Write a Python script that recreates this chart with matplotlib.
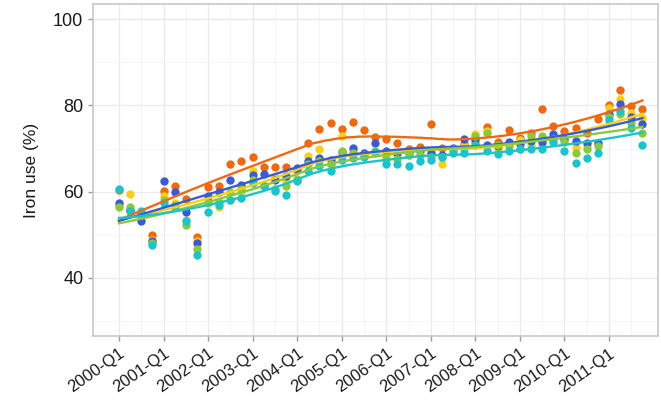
import numpy as np
import matplotlib
matplotlib.use("Agg")
import matplotlib.pyplot as plt

plt.rcParams['font.family'] = ['Liberation Sans', 'DejaVu Sans']

# quarters 2000-Q1 .. 2011-Q4
quarters = [f"{y}-Q{q}" for y in range(2000, 2012) for q in range(1, 5)]
years = list(range(2000, 2012))

orange = [60.3, 55.5, 55.0, 50.0, 60.1, 61.4, 58.3, 49.5, 61.1, 61.4, 66.5, 67.2,
          68.1, 65.7, 65.7, 65.7, 65.0, 71.3, 74.6, 76.0, 74.6, 76.1, 74.3, 72.7,
          72.1, 71.2, 70.0, 70.4, 75.6, 70.2, 70.0, 71.0, 71.5, 75.0, 71.5, 74.3,
          72.5, 73.5, 79.2, 75.2, 74.0, 74.8, 73.5, 76.9, 80.2, 83.6, 79.8, 79.2]
yellow = [57.0, 59.4, 54.5, 48.8, 59.0, 57.3, 53.5, 48.5, 57.8, 56.5, 58.1, 60.0,
          64.7, 61.5, 63.5, 62.5, 62.8, 68.2, 69.9, 66.5, 73.0, 69.5, 68.5, 69.0,
          68.0, 68.5, 68.5, 68.5, 69.0, 66.3, 69.5, 70.5, 73.3, 74.0, 70.0, 70.8,
          71.9, 70.8, 71.0, 72.5, 72.5, 70.4, 70.5, 71.0, 79.4, 81.4, 78.3, 77.1]
blue = [57.4, 55.8, 53.3, 48.5, 62.4, 59.8, 55.3, 48.0, 58.9, 60.0, 62.6, 61.6,
        63.8, 64.2, 62.6, 63.6, 65.5, 67.0, 67.7, 67.3, 69.2, 70.2, 69.0, 71.3,
        69.4, 69.0, 69.2, 69.5, 69.0, 68.6, 70.2, 72.1, 72.1, 70.9, 70.5, 71.4,
        71.0, 71.7, 71.5, 73.3, 72.1, 71.7, 71.3, 71.3, 77.9, 80.4, 77.2, 75.6]
green = [56.5, 56.5, 54.6, 48.0, 58.0, 57.0, 52.3, 46.7, 57.4, 57.5, 60.0, 60.5,
         62.8, 61.2, 60.5, 61.2, 63.0, 66.3, 67.0, 66.5, 69.4, 69.0, 68.5, 69.5,
         67.5, 67.5, 68.5, 68.5, 68.0, 68.0, 69.8, 69.8, 72.9, 73.6, 70.9, 70.5,
         70.0, 72.9, 73.0, 72.1, 71.5, 69.0, 69.9, 70.5, 77.2, 78.1, 76.0, 73.5]
cyan = [60.6, 55.6, 55.6, 47.6, 57.3, 56.5, 53.1, 45.3, 55.2, 57.0, 58.0, 58.6,
        61.9, 61.2, 60.2, 59.3, 62.5, 64.7, 66.0, 64.7, 67.4, 67.8, 68.0, 69.2,
        66.3, 66.3, 66.0, 67.1, 67.4, 68.0, 69.0, 69.0, 70.9, 69.4, 68.8, 69.4,
        69.8, 69.8, 69.9, 71.5, 69.4, 66.7, 67.7, 69.0, 76.7, 78.7, 74.8, 70.7]

series = [orange, yellow, blue, green, cyan]
colors = ['#EE6A12', '#F7D117', '#3A5BD3', '#8CC83C', '#1CC3CB']


def loess(x, y, xs, span=0.75):
    # local quadratic fit with tricube weights (like ggplot's default smoother)
    x = np.asarray(x, float)
    y = np.asarray(y, float)
    n = len(x)
    k = int(np.ceil(span * n))
    out = []
    for x0 in xs:
        d = np.abs(x - x0)
        h = np.sort(d)[k - 1]
        w = np.clip(1 - (d / h) ** 3, 0, None) ** 3
        A = np.vstack([np.ones(n), x - x0, (x - x0) ** 2]).T
        W = np.sqrt(w)
        coef = np.linalg.lstsq(A * W[:, None], y * W, rcond=None)[0]
        out.append(coef[0])
    return np.array(out)


fig = plt.figure(figsize=(6.61, 4.03), dpi=100)
ax = fig.add_axes([0.1407, 0.166, 0.8548, 0.824])

xi = np.arange(len(quarters))
xs = np.linspace(0, len(quarters) - 1, 200)
for vals, c in zip(series, colors):
    ax.scatter(xi, vals, s=36, color=c, zorder=3, linewidths=0)
for vals, c in zip(series, colors):
    ax.plot(xs, loess(xi, vals, xs), color=c, lw=1.7, zorder=4)

ax.set_xlim(-2.33, 48.4)
ax.set_ylim(26.5, 103.5)
ax.set_xticks(xi[::4])
ax.set_xticklabels([f"{y}-Q1" for y in years], rotation=35, ha='right',
                   rotation_mode='anchor', fontsize=12, color='#1A1A1A')
ax.set_xticks(xi[2::4], minor=True)
ax.set_yticks([40, 60, 80, 100])
ax.set_yticks([30, 50, 70, 90], minor=True)
ax.tick_params(axis='y', labelsize=13, labelcolor='#1A1A1A')
ax.tick_params(which='major', color='#999999', length=3.5, width=1)
ax.tick_params(which='minor', length=0)
ax.grid(which='major', color='#EBEBEB', lw=1.0)
ax.grid(which='minor', color='#F3F3F3', lw=0.6)
ax.set_axisbelow(True)
for sp in ax.spines.values():
    sp.set_color('#C8C8C8')
    sp.set_linewidth(1.2)
ax.set_ylabel('Iron use (%)', fontsize=12.5, color='#1A1A1A', labelpad=10)

fig.savefig('out.png', dpi=100)
